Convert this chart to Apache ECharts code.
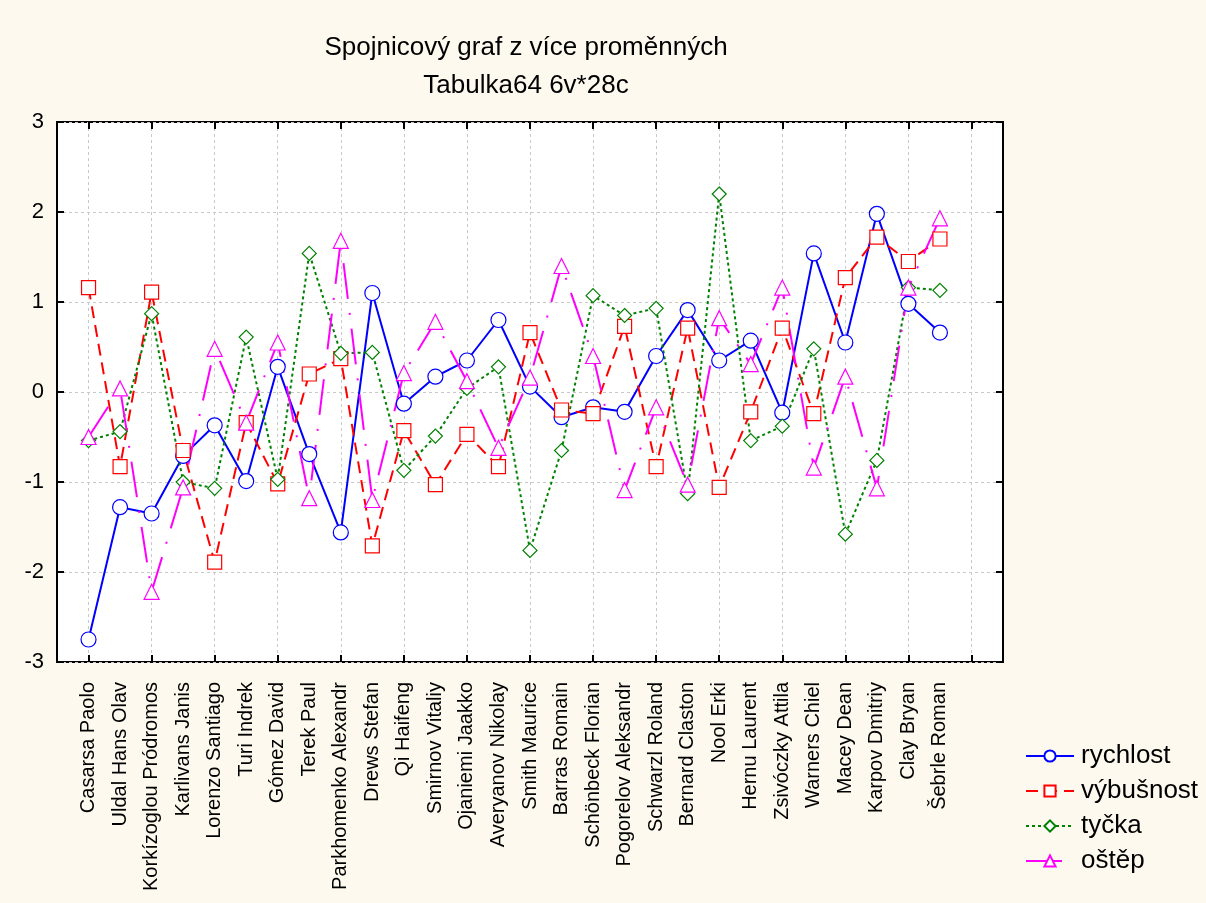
<!DOCTYPE html>
<html>
<head>
<meta charset="utf-8">
<script src="https://cdn.jsdelivr.net/npm/echarts@6/dist/echarts.min.js"></script>
<style>
  html, body { margin: 0; padding: 0; background: #fdf9ee; }
  #chart { width: 1206px; height: 903px; }
</style>
</head>
<body>
<div id="chart"></div>
<script>
// jména závodníků (kategorie osy x)
var names = [
    "Casarsa Paolo", "Uldal Hans Olav", "Korkízoglou Pródromos", "Karlivans Janis",
    "Lorenzo Santiago", "Turi Indrek", "Gómez David", "Terek Paul",
    "Parkhomenko Alexandr", "Drews Stefan", "Qi Haifeng", "Smirnov Vitaliy",
    "Ojaniemi Jaakko", "Averyanov Nikolay", "Smith Maurice", "Barras Romain",
    "Schönbeck Florian", "Pogorelov Aleksandr", "Schwarzl Roland", "Bernard Claston",
    "Nool Erki", "Hernu Laurent", "Zsivóczky Attila", "Warners Chiel",
    "Macey Dean", "Karpov Dmitriy", "Clay Bryan", "Šebrle Roman"
];
var rychlost = [
    -2.75, -1.28, -1.35, -0.71, -0.37, -0.99, 0.28, -0.69, -1.56, 1.10,
    -0.13, 0.17, 0.35, 0.80, 0.06, -0.28, -0.17, -0.22, 0.40, 0.91,
    0.35, 0.57, -0.23, 1.54, 0.55, 1.98, 0.98, 0.66
];
var vybusnost = [
    1.16, -0.83, 1.11, -0.65, -1.89, -0.34, -1.02, 0.20, 0.37, -1.71,
    -0.43, -1.03, -0.47, -0.83, 0.66, -0.20, -0.24, 0.73, -0.83, 0.71,
    -1.06, -0.22, 0.71, -0.24, 1.27, 1.72, 1.45, 1.70
];
var tycka = [
    -0.54, -0.44, 0.87, -1.00, -1.07, 0.61, -0.97, 1.54, 0.43, 0.44,
    -0.87, -0.49, 0.04, 0.28, -1.76, -0.65, 1.07, 0.85, 0.93, -1.13,
    2.20, -0.54, -0.38, 0.48, -1.58, -0.76, 1.16, 1.13
];
var ostep = [
    -0.50, 0.04, -2.22, -1.06, 0.48, -0.34, 0.55, -1.18, 1.68, -1.20,
    0.21, 0.78, 0.12, -0.62, 0.16, 1.40, 0.40, -1.09, -0.17, -1.03,
    0.82, 0.31, 1.16, -0.84, 0.17, -1.07, 1.16, 1.93
];
var yTicks = [-3, -2, -1, 0, 1, 2, 3];

var chart = echarts.init(document.getElementById("chart"));
var font = "Liberation Sans, Arial, sans-serif";

// osa x běží od 0 do 30, jména sedí na pozicích 1..28
var slots = [""].concat(names, ["", ""]);
var oddOnly = function(index) {
    return index % 2 === 1;
};
var pad = function(arr) {
    return [null].concat(arr);
};

var xAxisOpts = function(pos) {
    return {
        type: "category",
        position: pos,
        data: slots,
        boundaryGap: false,
        axisLine: { show: false, onZero: false },
        axisTick: {
            show: true,
            inside: true,
            length: 7,
            interval: oddOnly,
            lineStyle: { color: "#000", width: 2 }
        },
        splitLine: {
            show: pos === "bottom",
            interval: oddOnly,
            lineStyle: { color: "#c8c8c8", type: [3, 3], width: 1 }
        },
        axisLabel: {
            show: pos === "bottom",
            interval: 0,
            rotate: 90,
            margin: 20,
            color: "#000",
            fontSize: 20,
            fontFamily: font
        }
    };
};
var yAxisOpts = function(pos) {
    return {
        type: "value",
        position: pos,
        min: -3,
        max: 3,
        interval: 1,
        axisLine: { show: false, onZero: false },
        axisTick: {
            show: true,
            inside: true,
            length: 7,
            lineStyle: { color: "#000", width: 2 }
        },
        splitLine: {
            show: pos === "left",
            lineStyle: { color: "#c8c8c8", type: [3, 3], width: 1 }
        },
        axisLabel: {
            show: pos === "left",
            margin: 13,
            color: "#000",
            fontSize: 22,
            fontFamily: font,
            formatter: function(v) {
                return yTicks.indexOf(v) >= 0 ? String(v) : "";
            }
        }
    };
};

var makeSeries = function(name, data, color, lineType, symbol, size) {
    return {
        name: name,
        type: "line",
        data: pad(data),
        xAxisIndex: 0,
        yAxisIndex: 0,
        symbol: symbol,
        symbolSize: size,
        showAllSymbol: true,
        connectNulls: false,
        animation: false,
        lineStyle: { color: color, width: 2, type: lineType },
        itemStyle: { color: "#fff", borderColor: color, borderWidth: 1.2 }
    };
};

var option = {
    backgroundColor: "#fdf9ee",
    animation: false,
    title: {
        text: "Spojnicový graf z více proměnných\nTabulka64 6v*28c",
        left: 521,
        textAlign: "center",
        top: 24,
        textStyle: {
            fontSize: 26,
            fontWeight: "normal",
            fontFamily: font,
            color: "#000",
            lineHeight: 38
        }
    },
    legend: {
        orient: "vertical",
        left: 1020,
        top: 738,
        itemWidth: 48,
        itemHeight: 14,
        itemGap: 9,
        textStyle: { fontSize: 26, fontFamily: font, color: "#000", padding: [0, 0, 0, 2] },
        data: ["rychlost", "výbušnost", "tyčka", "oštěp"]
    },
    grid: {
        left: 57,
        top: 122,
        right: 203,
        bottom: 241,
        show: true,
        backgroundColor: "#fff",
        borderColor: "#000",
        borderWidth: 2
    },
    xAxis: [xAxisOpts("bottom"), xAxisOpts("top")],
    yAxis: [yAxisOpts("left"), yAxisOpts("right")],
    series: [
        makeSeries("rychlost", rychlost, "#0000ff", "solid", "circle", 15),
        makeSeries("výbušnost", vybusnost, "#ff0000", [12, 7], "rect", 14),
        makeSeries("tyčka", tycka, "#008000", [3, 3], "diamond", 14),
        makeSeries("oštěp", ostep, "#ff00ff", [36, 14, 2, 14], "triangle", 15)
    ]
};
chart.setOption(option);
</script>
</body>
</html>
